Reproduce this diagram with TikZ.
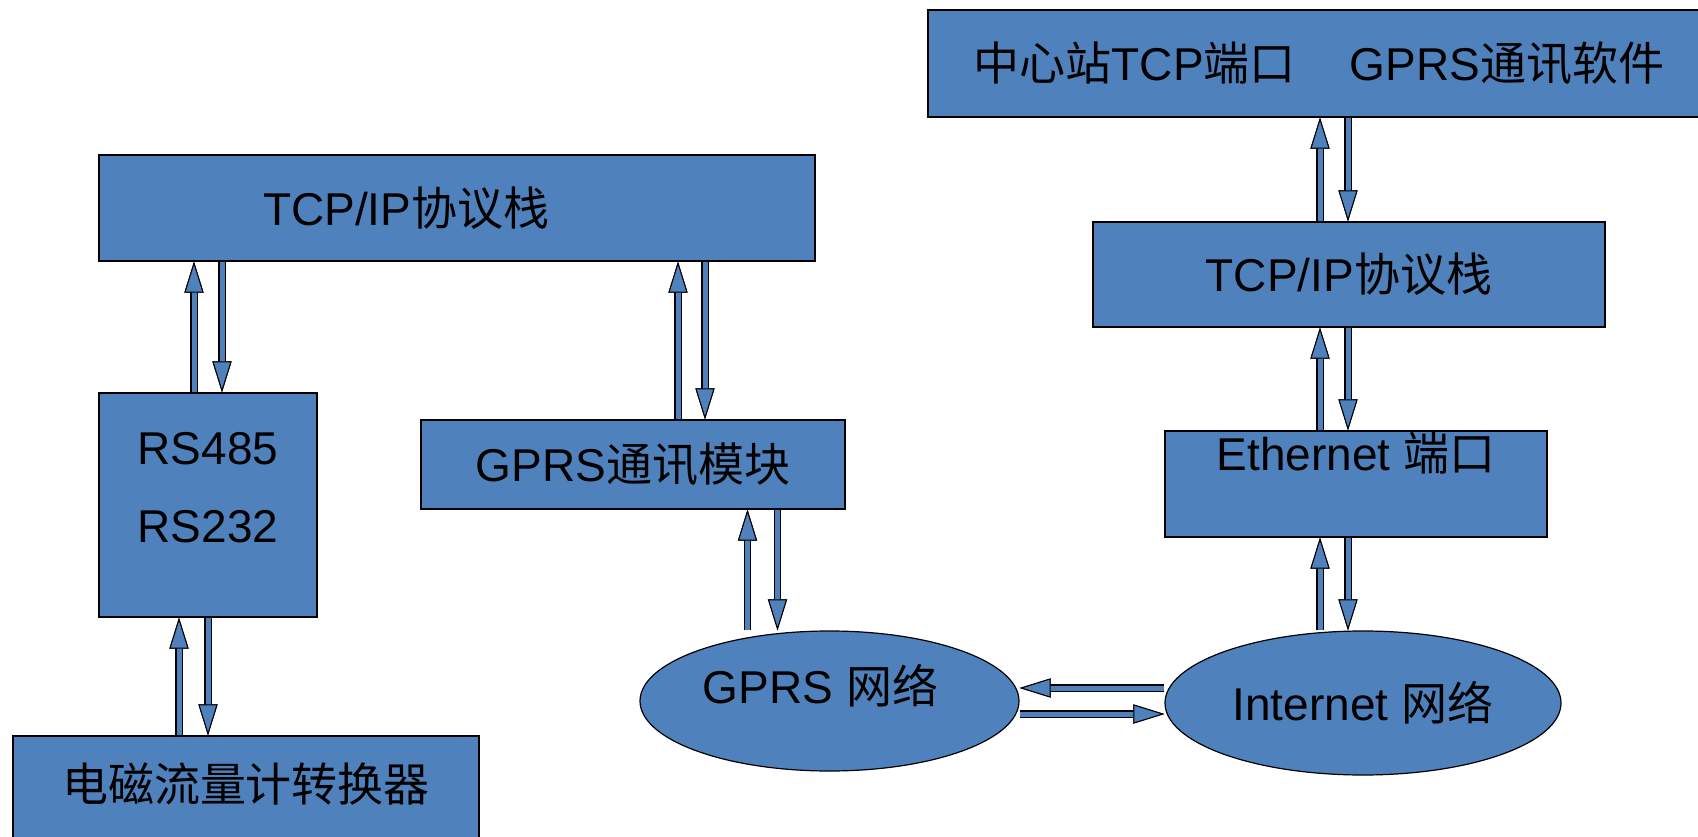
\documentclass[tikz,border=0pt]{standalone}
\usepackage{fontspec}
\setmainfont{Liberation Sans}
\newfontfamily\cjk{Noto Sans CJK SC}
\usetikzlibrary{positioning,arrows.meta,shapes.geometric}
\definecolor{boxblue}{HTML}{4F81BD}

\begin{document}
\begin{tikzpicture}[x=1pt, y=-1pt,
  block/.style={rectangle, draw=black, line width=1.2pt, fill=boxblue,
                align=center, inner sep=0pt,
                font=\fontsize{46}{55}\selectfont},
  net/.style={ellipse, draw=black, line width=1.2pt, fill=boxblue,
              inner sep=0pt, font=\fontsize{46}{55}\selectfont},
  flow/.style={line width=5pt, draw=boxblue,
               -{Triangle[length=31pt, width=19pt, line width=1pt, color=black, fill=boxblue]},
               preaction={draw=black, line width=7.5pt,
                          -{Triangle[length=31pt, width=19pt, line width=1pt]}}}
]
  \clip (0,0) rectangle (1698,837);

  \node[block, minimum width=782pt, minimum height=107pt] (station) at (1319,63.5)
    {{\cjk 中心站}TCP{\cjk 端口}\hspace{54pt}GPRS{\cjk 通讯软件}};
  \node[block, minimum width=716pt, minimum height=106pt, text width=388pt,
        inner xsep=164pt, align=left] (stackL) at (457,208) {TCP/IP{\cjk 协议栈}};
  \node[block, minimum width=218pt, minimum height=224pt, text depth=36pt] (serial) at (208,505)
    {RS485\\[23pt]RS232};
  \node[block, minimum width=466pt, minimum height=114pt, text height=35pt,
        text depth=19pt] (meter) at (246,793) {{\cjk 电磁流量计转换器}};
  \node[block, minimum width=424pt, minimum height=89pt] (module) at (633,464.5)
    {GPRS{\cjk 通讯模块}};
  \node[net, minimum width=379pt, minimum height=140pt, text height=35pt,
        text depth=31pt] (gprsnet) at (829.5,701) {GPRS {\cjk 网络}\hspace*{18pt}};
  \node[net, minimum width=396pt, minimum height=144pt] (inet) at (1363,703)
    {Internet {\cjk 网络}};
  \node[block, minimum width=512pt, minimum height=105pt] (stackR) at (1349,274.5)
    {TCP/IP{\cjk 协议栈}};
  \node[block, minimum width=382pt, minimum height=106pt, text height=35pt,
        text depth=63pt] (eth) at (1356,484) {Ethernet {\cjk 端口}};

  \draw[flow] ([xshift=-14pt]serial.north) -- ([xshift=-14pt]serial.north |- stackL.south);
  \draw[flow] ([xshift=14pt]serial.north |- stackL.south) -- ([xshift=14pt]serial.north);
  \draw[flow] ([xshift=-29pt]serial.south |- meter.north) -- ([xshift=-29pt]serial.south);
  \draw[flow] (serial.south) -- (serial.south |- meter.north);

  \draw[flow] ([xshift=45pt]module.north) -- ([xshift=45pt]module.north |- stackL.south);
  \draw[flow] ([xshift=72pt]module.north |- stackL.south) -- ([xshift=72pt]module.north);
  \draw[flow] ([xshift=-82pt]gprsnet.north) -- ([xshift=-82pt]gprsnet.north |- module.south);
  \draw[flow] ([xshift=-52pt]gprsnet.north |- module.south) -- ([xshift=-52pt]gprsnet.north);

  \draw[flow] ([yshift=15pt]inet.west) -- ([yshift=15pt]inet.west -| gprsnet.east);
  \draw[flow] ([yshift=-13pt]gprsnet.east) -- ([yshift=-13pt]gprsnet.east -| inet.west);

  \draw[flow] ([xshift=-43pt]inet.north) -- ([xshift=-43pt]inet.north |- eth.south);
  \draw[flow] ([xshift=-15pt]inet.north |- eth.south) -- ([xshift=-15pt]inet.north);
  \draw[flow] ([xshift=-36pt]eth.north) -- ([xshift=-36pt]eth.north |- stackR.south);
  \draw[flow] ([xshift=-8pt]eth.north |- stackR.south) -- ([xshift=-8pt]eth.north);
  \draw[flow] ([xshift=-29pt]stackR.north) -- ([xshift=-29pt]stackR.north |- station.south);
  \draw[flow] ([xshift=-1pt]stackR.north |- station.south) -- ([xshift=-1pt]stackR.north);
\end{tikzpicture}
\end{document}
